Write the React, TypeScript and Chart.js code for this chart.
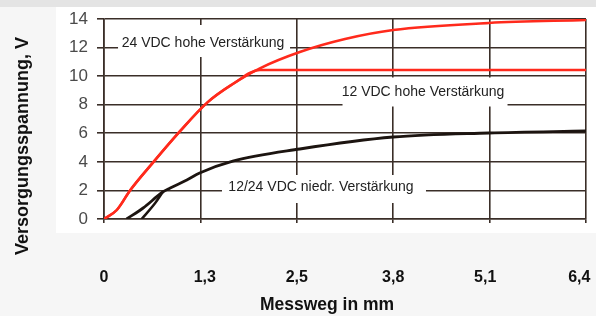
import React, { useEffect, useRef } from "react";
import { Chart, registerables } from "chart.js";

Chart.register(...registerables);

// ---- data ----
const xTickLabels = ["0", "1,3", "2,5", "3,8", "5,1", "6,4"];
const xMax = 6.4;
const yMin = 0;
const yMax = 14;
const yStep = 2;

const red24X = [0, 0.17, 0.35, 0.65, 1.01, 1.37, 1.71, 2.07, 2.6, 3.2, 3.84, 5.11, 6.4];
const red24Y = [0, 0.63, 2.03, 3.95, 6.15, 8.15, 9.45, 10.55, 11.69, 12.6, 13.23, 13.72, 13.93];

const red12X = [0, 0.17, 0.35, 0.65, 1.01, 1.37, 1.71, 2.07, 3.84, 6.4];
const red12Y = [0, 0.63, 2.03, 3.95, 6.15, 8.15, 9.45, 10.43, 10.43, 10.43];

const lowX = [0.3, 0.52, 0.78, 0.88, 1.1, 1.27, 1.71, 2.6, 3.84, 5.11, 6.4];
const lowY = [0, 0.77, 1.89, 2.17, 2.73, 3.22, 4.05, 4.9, 5.74, 6.02, 6.16];

const lowBX = [0.5, 0.68, 0.78];
const lowBY = [0, 1.12, 1.89];

const labelTexts = ["24 VDC hohe Verstärkung", "12 VDC hohe Verstärkung", "12/24 VDC niedr. Verstärkung"];
const labelX = [1.315, 4.236, 2.881];
const labelY = [12.32, 8.89, 2.24];

const yTitle = "Versorgungsspannung, V";
const xTitle = "Messweg in mm";

// ---- presentation ----
const labelBoxes = [
  { w: 172, h: 32, dx: 1, dy: -2 },
  { w: 165, h: 29, dx: 2, dy: 0 },
  { w: 204, h: 28, dx: 3, dy: 2 },
];
const xLabelPad = [["", ""], ["  ", ""], ["", ""], ["", ""], ["", "  "], ["", "   "]];

const toPts = (xs: number[], ys: number[]) => xs.map((x, i) => ({ x, y: ys[i] }));

const GRID = "#3a2e28";
const FONT = "'Liberation Sans', Arial, Helvetica, sans-serif";

export default function App() {
  const ref = useRef<HTMLCanvasElement | null>(null);

  useEffect(() => {
    document.body.style.margin = "0";
    const canvas = ref.current!;
    const decor = {
      id: "decor",
      beforeDraw(chart: any) {
        const { ctx } = chart;
        ctx.save();
        ctx.fillStyle = "#f6f6f6";
        ctx.fillRect(0, 0, chart.width, chart.height);
        ctx.fillStyle = "#ffffff";
        ctx.fillRect(56, 7, chart.width - 56, 226);
        ctx.fillStyle = "#e4e4e4";
        ctx.fillRect(0, 0, chart.width, 7);
        ctx.restore();
      },
      beforeDatasetsDraw(chart: any) {
        const { ctx } = chart;
        const xs = chart.scales.x;
        const ys = chart.scales.y;
        ctx.save();
        labelTexts.forEach((t, i) => {
          const cx = xs.getPixelForValue(labelX[i]);
          const cy = ys.getPixelForValue(labelY[i]);
          const b = labelBoxes[i];
          ctx.fillStyle = "#ffffff";
          ctx.fillRect(cx + b.dx - b.w / 2, cy + b.dy - b.h / 2, b.w, b.h);
          ctx.fillStyle = "#222222";
          ctx.font = `14px ${FONT}`;
          ctx.textAlign = "center";
          ctx.textBaseline = "middle";
          ctx.fillText(t, cx, cy);
        });
        ctx.restore();
      },
      afterDraw(chart: any) {
        const { ctx } = chart;
        ctx.save();
        ctx.fillStyle = "#111111";
        ctx.font = `bold 17.5px ${FONT}`;
        ctx.textAlign = "center";
        ctx.textBaseline = "middle";
        ctx.fillText(xTitle, 327, 305);
        ctx.translate(23, 146);
        ctx.rotate(-Math.PI / 2);
        ctx.font = `bold 18px ${FONT}`;
        ctx.fillText(yTitle, 0, 0);
        ctx.restore();
      },
    };

    const ds = (data: any[], color: string, width: number) => ({
      data,
      borderColor: color,
      borderWidth: width,
      pointRadius: 0,
      fill: false,
      cubicInterpolationMode: "monotone" as const,
    });

    const chart = new Chart(canvas, {
      type: "line",
      data: {
        datasets: [
          ds(toPts(red12X, red12Y), "#ff2a1c", 2.5),
          ds(toPts(red24X, red24Y), "#ff2a1c", 2.5),
          ds(toPts(lowBX, lowBY), "#1c1410", 2.5),
          ds(toPts(lowX, lowY), "#1c1410", 2.8),
        ],
      },
      options: {
        responsive: false,
        animation: false,
        events: [],
        layout: { padding: { top: 19, right: 10, left: 0, bottom: 0 } },
        plugins: { legend: { display: false }, tooltip: { enabled: false } },
        scales: {
          x: {
            type: "linear",
            min: 0,
            max: xMax,
            afterBuildTicks: (s: any) => {
              s.ticks = xTickLabels.map((_, i) => ({ value: (i * xMax) / (xTickLabels.length - 1) }));
            },
            afterFit: (s: any) => {
              s.height = 97;
              s.paddingLeft = 0;
              s.paddingRight = 0;
            },
            grid: { color: GRID, lineWidth: 1.6, tickLength: 4, drawTicks: true },
            border: { color: GRID, width: 1.6 },
            ticks: {
              maxRotation: 0,
              autoSkip: false,
              padding: 45,
              color: "#111111",
              font: { family: FONT, size: 16, weight: "bold" },
              callback: (_v: any, i: number) => xLabelPad[i][0] + xTickLabels[i] + xLabelPad[i][1],
            },
          },
          y: {
            type: "linear",
            min: yMin,
            max: yMax,
            afterFit: (s: any) => {
              s.width = 104;
              s.paddingTop = 0;
              s.paddingBottom = 0;
            },
            grid: { color: GRID, lineWidth: 1.6, tickLength: 7, drawTicks: true },
            border: { color: GRID, width: 1.6 },
            ticks: {
              stepSize: yStep,
              padding: 9,
              color: "#4a4a4a",
              font: { family: FONT, size: 17 },
            },
          },
        },
      },
      plugins: [decor],
    });
    return () => chart.destroy();
  }, []);

  return (
    <div style={{ width: 596, height: 316 }}>
      <canvas ref={ref} width={596} height={316} style={{ display: "block" }} />
    </div>
  );
}
